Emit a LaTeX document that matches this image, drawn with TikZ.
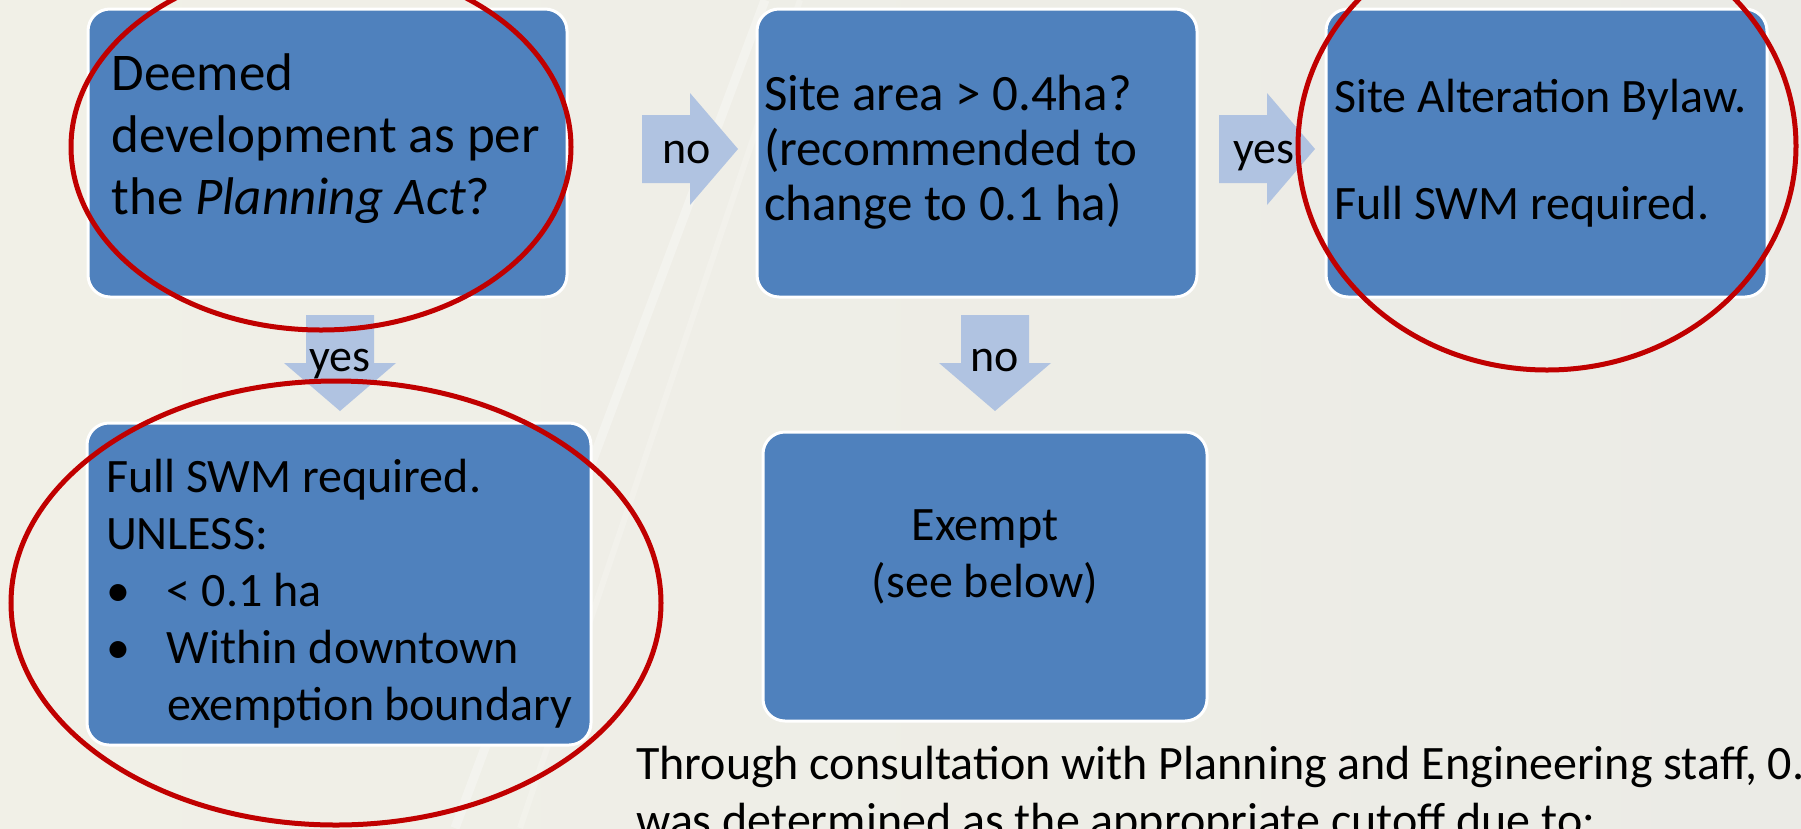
\documentclass[tikz,border=0pt]{standalone}
\usepackage{fontspec}
\setmainfont{Carlito}

\definecolor{boxblue}{HTML}{4F81BD}
\definecolor{arrowblue}{HTML}{B0C3E1}
\definecolor{ringred}{HTML}{C00000}
\definecolor{slidebg}{HTML}{EBEBE6}
\definecolor{slidecream}{HTML}{F1F0E7}

\newcommand{\titlesize}{\fontsize{53}{62}\selectfont}
\newcommand{\areasize}{\fontsize{51}{55}\selectfont}
\newcommand{\bodysize}{\fontsize{48}{57}\selectfont}
\newcommand{\labelsize}{\fontsize{46}{54}\selectfont}

\tikzset{
  flowbox/.style={draw=white, line width=3pt, fill=boxblue, rounded corners=22pt,
    inner sep=0pt, align=flush left, font=\bodysize},
  flowarrow/.style={fill=arrowblue},
  arrowlabel/.style={anchor=base, inner sep=0pt, font=\labelsize},
  redring/.style={draw=ringred, line width=5pt},
}

\begin{document}
\begin{tikzpicture}[x=1pt, y=-1pt]
      % Slide background
      \useasboundingbox (0,0) rectangle (1801,828);
      \shade[left color=slidecream, right color=slidebg] (0,0) rectangle (1801,828);
      \draw[white, opacity=.3, line width=9pt] (455,828) -- (765,0);
      \draw[white, opacity=.2, line width=6pt] (520,828) -- (800,0);

      % Decision boxes
      \node[flowbox, font=\titlesize, minimum width=479pt, minimum height=288pt,
        text width=432pt, text height=77pt, text depth=203pt] (deemed) at (327.5,153)
        {Deemed\\development as per\\the \textit{Planning Act}?};
      \node[flowbox, font=\areasize, minimum width=440pt, minimum height=288pt,
        text width=426pt, text height=97pt, text depth=183pt] (area) at (977,153)
        {Site area > 0.4ha?\\(recommended to\\change to 0.1 ha)};
      \node[flowbox, minimum width=441pt, minimum height=288pt,
        text width=425pt, text height=99pt, text depth=181pt] (bylaw) at (1546.5,153)
        {Site Alteration Bylaw.\\[50pt]Full SWM required.};
      \node[flowbox, minimum width=504pt, minimum height=322pt,
        text width=466pt, text height=63pt, text depth=247pt] (fullswm) at (339,584)
        {Full SWM required.\\UNLESS:\\\makebox[61pt][l]{•}< 0.1 ha\\\makebox[61pt][l]{•}Within downtown\\\hspace*{61pt}exemption boundary};
      \node[flowbox, align=flush center, minimum width=444pt, minimum height=289pt,
        text width=400pt, text height=104pt, text depth=176pt] (exempt) at (985,576.5)
        {Exempt\\(see below)};

      % Block arrows pointing right
      \foreach \cx/\cy/\lbl/\nm in {690/149/no/noarea, 1267/149/yes/yesbylaw} {
          \fill[flowarrow] (\cx,\cy) ++(-48,-34) -- ++(48,0) -- ++(0,-22) -- ++(48,56)
            -- ++(-48,56) -- ++(0,-22) -- ++(-48,0) -- cycle;
          \node[arrowlabel] (\nm) at (\cx-3,\cy+14) {\lbl};
      }

      % Block arrows pointing down
      \foreach \cx/\cy/\lbl/\nm in {340/363/yes/yesfull, 995/363/no/noexempt} {
          \fill[flowarrow] (\cx,\cy) ++(-34,-48) -- ++(68,0) -- ++(0,48) -- ++(22,0)
            -- ++(-56,48) -- ++(-56,-48) -- ++(22,0) -- cycle;
          \node[arrowlabel] (\nm) at (\cx,\cy+8) {\lbl};
      }

      % Note under the chart
      \node[anchor=base west, inner sep=0pt, align=flush left, text width=1200pt, font=\bodysize] (note) at (636,779)
        {Through consultation with Planning and Engineering staff, 0.\\was determined as the appropriate cutoff due to:};

      % Red rings
      \draw[redring] (321,147) ellipse [x radius=250pt, y radius=183pt];
      \draw[redring] (1547,146) ellipse [x radius=249pt, y radius=224pt];
      \draw[redring] (336,603) ellipse [x radius=325pt, y radius=222pt];
\end{tikzpicture}
\end{document}
